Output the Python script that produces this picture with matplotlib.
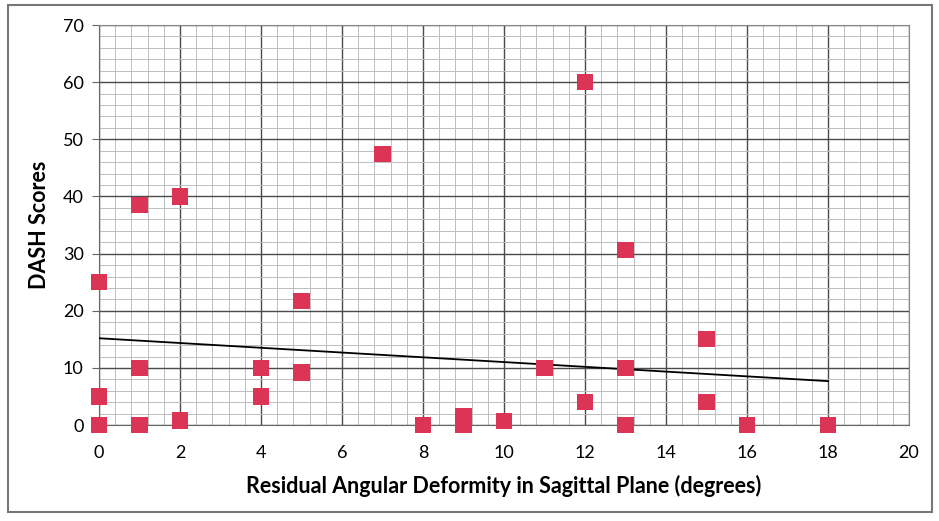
"""Diagrama de dispersion DASH vs deformidad angular residual."""
import matplotlib

matplotlib.use("Agg")

import matplotlib.pyplot as plt
import numpy as np
from matplotlib.patches import Rectangle
from matplotlib.ticker import MultipleLocator

plt.rcParams["font.family"] = ["Lato", "DejaVu Sans"]

# datos
deformity = [0, 0, 0, 1, 1, 1, 2, 2, 4, 4, 5, 5, 7, 8, 9, 9, 10,
             11, 12, 12, 13, 13, 13, 15, 15, 16, 18]
dash = [25, 5, 0, 38.5, 10, 0, 40, 0.8, 10, 5, 21.7, 9.2, 47.5, 0, 1.5, 0, 0.7,
        10, 60, 4, 30.7, 10, 0, 15, 4, 0, 0]

# linea de tendencia tal como aparece (extremos leidos)
trend_x = [0, 18]
trend_y = [15.2, 7.7]

x = np.array(deformity, dtype=float)
y = np.array(dash, dtype=float)

fig = plt.figure(figsize=(9.39, 5.21), dpi=100)
ax = fig.add_axes([0.1054, 0.184, 0.8626, 0.768])

ax.set_xlim(0, 20)
ax.set_ylim(0, 70)
ax.xaxis.set_major_locator(MultipleLocator(2))
ax.xaxis.set_minor_locator(MultipleLocator(0.4))
ax.yaxis.set_major_locator(MultipleLocator(10))
ax.yaxis.set_minor_locator(MultipleLocator(2))

ax.grid(which="minor", color="#bdbdbd", lw=0.7)
ax.grid(which="major", color="#4a4a4a", lw=1.0)
ax.set_axisbelow(True)
for side in ["top", "right"]:
    ax.spines[side].set_color("#888888")
ax.spines["left"].set_color("#666666")
ax.spines["bottom"].set_color("#666666")

ax.tick_params(which="minor", length=0)
ax.tick_params(axis="x", which="major", length=0, pad=14, labelsize=13)
ax.tick_params(axis="y", which="major", length=5, color="#666666",
               labelsize=13, pad=6)

ax.plot(trend_x, trend_y, color="black", lw=1.3, zorder=3)

ax.scatter(x, y, marker="s", s=135, color="#dc3455", zorder=4, clip_on=False,
           edgecolors="none")

ax.set_xlabel("Residual Angular Deformity in Sagittal Plane (degrees)",
              fontsize=15.5, fontweight="bold", labelpad=10)
ax.set_ylabel("DASH Scores", fontsize=15.5, fontweight="bold", labelpad=9)

fig.patches.append(Rectangle((8 / 939, 1 - 512 / 521), 924 / 939, 507 / 521,
                             transform=fig.transFigure, fill=False,
                             edgecolor="#777777", lw=1.5))

fig.savefig("out.png", dpi=100)
plt.close(fig)
